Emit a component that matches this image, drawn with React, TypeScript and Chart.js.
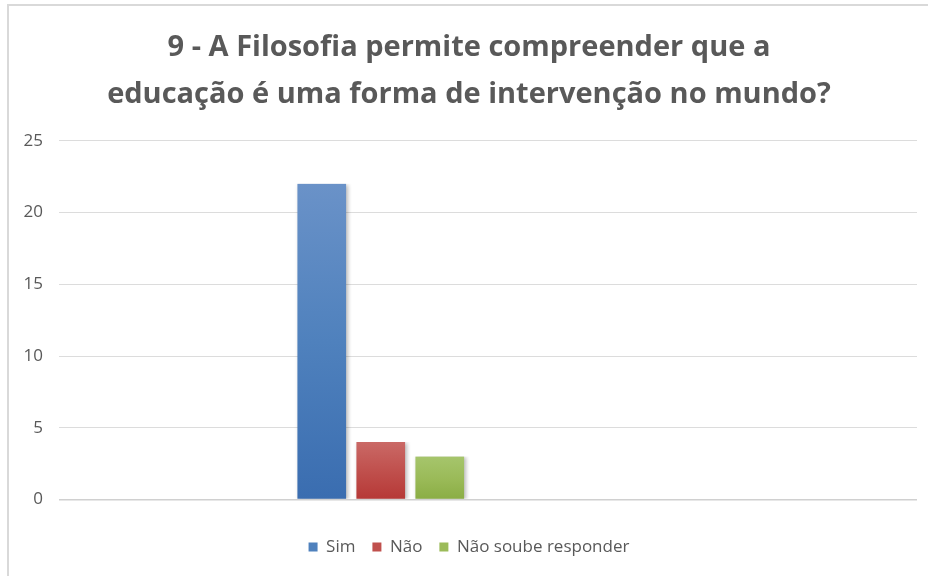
import React, { useEffect, useRef } from "react";
import { Chart, registerables } from "chart.js";

Chart.register(...registerables);

const titleLines = ["9 - A Filosofia permite compreender que a", "educação é uma forma de intervenção no mundo?"];
const categories = [""];
const seriesNames = ["Sim", "Não", "Não soube responder"];
const seriesValues = [22, 4, 3];
const seriesTop = ["#6a92c8", "#ca6966", "#a6c56c"];
const seriesBottom = ["#3a6db0", "#b63836", "#8aad44"];
const seriesSolid = ["#4f81bd", "#c0504d", "#9bbb59"];
const yMin = 0;
const yMax = 25;
const yStep = 5;
const xMin = -3;
const xMax = 5;

const FONT = "'Open Sans', Lato, sans-serif";
const TEXT = "#595959";

export default function App() {
  const ref = useRef<HTMLCanvasElement | null>(null);

  useEffect(() => {
    if (!ref.current) return;
    const shadowPlugin = {
      id: "barShadow",
      beforeDatasetsDraw(chart: any) {
        const c = chart.ctx;
        c.save();
        c.shadowColor = "rgba(0,0,0,0.28)";
        c.shadowBlur = 4;
        c.shadowOffsetX = 1.5;
        c.shadowOffsetY = 1;
      },
      afterDatasetsDraw(chart: any) {
        chart.ctx.restore();
      },
    };

    const datasets = seriesNames.map((name, i) => ({
      label: name,
      data: categories.map((_, ci) => ({ x: ci, y: seriesValues[i] })),
      backgroundColor: (ctx: any) => {
        const chart = ctx.chart;
        const area = chart.chartArea;
        if (!area || !ctx.parsed || ctx.type !== "data") return seriesSolid[i];
        const yScale = chart.scales.y;
        const top = yScale.getPixelForValue(ctx.parsed.y);
        const bottom = yScale.getPixelForValue(0);
        if (!isFinite(top) || !isFinite(bottom) || top === bottom) return seriesSolid[i];
        const g = chart.ctx.createLinearGradient(0, top, 0, bottom);
        g.addColorStop(0, seriesTop[i]);
        g.addColorStop(0.5, seriesSolid[i]);
        g.addColorStop(1, seriesBottom[i]);
        return g;
      },
      borderColor: "rgba(0,0,0,0)",
      borderWidth: { left: 5.5, right: 5.5, top: 0, bottom: 0 },
      borderSkipped: false,
      barThickness: 59,
    }));

    const chart = new Chart(ref.current, {
      type: "bar",
      data: { datasets },
      plugins: [shadowPlugin],
      options: {
        responsive: false,
        animation: false,
        layout: { padding: { left: 21, right: 11, top: 0, bottom: 10.5 } },
        scales: {
          x: {
            type: "linear",
            min: xMin,
            max: xMax,
            offset: false,
            grid: { display: false },
            border: { display: false },
            ticks: { display: false },
            afterFit: (s: any) => {
              s.height = 22;
            },
          },
          y: {
            min: yMin,
            max: yMax,
            ticks: {
              stepSize: yStep,
              color: TEXT,
              padding: 16,
              font: { family: FONT, size: 17 },
            },
            grid: {
              drawTicks: false,
              color: (c: any) => (c.tick && c.tick.value === 0 ? "#d0d0d0" : "#dcdcdc"),
              lineWidth: (c: any) => (c.tick && c.tick.value === 0 ? 1.5 : 1),
            },
            border: { display: false },
            afterFit: (s: any) => {
              s.width = 38;
            },
          },
        },
        plugins: {
          title: {
            display: true,
            text: titleLines,
            color: TEXT,
            font: { family: FONT, size: 29, weight: "bold", lineHeight: 1.6 },
            padding: { top: 25, bottom: 23 },
          },
          legend: {
            position: "bottom",
            fullSize: true,
            labels: {
              color: TEXT,
              font: { family: FONT, size: 17 },
              boxWidth: 9,
              boxHeight: 9,
              padding: 17,
              generateLabels: (ch: any) =>
                seriesNames.map((n, i) => ({
                  text: n,
                  fillStyle: seriesSolid[i],
                  strokeStyle: seriesSolid[i],
                  lineWidth: 0,
                  hidden: !ch.isDatasetVisible(i),
                  datasetIndex: i,
                  fontColor: TEXT,
                })),
            },
          },
          tooltip: { enabled: false },
        },
      },
    } as any);
    return () => chart.destroy();
  }, []);

  return (
    <div style={{ position: "fixed", left: 0, top: 0, width: 928, height: 576, background: "#fff", overflow: "hidden" }}>
      <div
        style={{
          position: "absolute",
          left: 7,
          top: 4,
          width: 940,
          height: 600,
          borderLeft: "2px solid #d9d9d9",
          borderTop: "2px solid #d9d9d9",
        }}
      />
      <canvas ref={ref} width={928} height={576} style={{ position: "absolute", left: 0, top: 0, display: "block" }} />
    </div>
  );
}
